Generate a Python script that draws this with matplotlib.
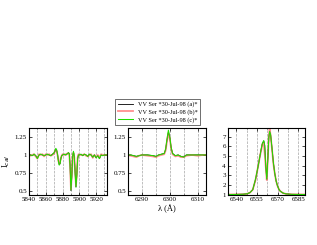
import matplotlib
matplotlib.use("Agg")
import matplotlib.pyplot as plt
from matplotlib.ticker import FuncFormatter, MultipleLocator

plt.rcParams['font.family'] = ['Liberation Serif', 'DejaVu Serif']
plt.rcParams['font.size'] = 5

labels = ["VV Ser *30-Jul-98 (a)*", "VV Ser *30-Jul-98 (b)*", "VV Ser *30-Jul-98 (c)*"]

# Panel 1: Na D region
wl1 = [5840, 5842, 5844, 5846, 5848, 5850, 5852, 5854, 5856, 5858,
       5860, 5862, 5864, 5866, 5868, 5870, 5871, 5872, 5873, 5874,
       5875, 5876, 5877, 5878, 5879, 5880, 5882, 5884, 5886, 5887,
       5888, 5889, 5890, 5891, 5892, 5893, 5894, 5895, 5896, 5897,
       5898, 5899, 5900, 5902, 5904, 5906, 5908, 5910, 5912, 5914,
       5916, 5918, 5920, 5922, 5924, 5926, 5928, 5930, 5932, 5934]
a1 = [1.00, 1.00, 0.99, 1.01, 0.99, 0.96, 1.00, 1.01, 1.00, 0.99,
      1.00, 1.01, 1.00, 0.99, 1.01, 1.03, 1.05, 1.08, 1.06, 1.01,
      0.93, 0.87, 0.88, 0.95, 0.99, 1.00, 1.01, 1.00, 1.02, 1.03,
      1.02, 0.86, 0.51, 0.70, 0.97, 1.04, 0.98, 0.76, 0.56, 0.72,
      0.95, 1.00, 1.00, 1.01, 0.99, 1.01, 1.00, 0.98, 1.01, 1.00,
      0.97, 1.00, 0.96, 0.99, 0.95, 1.00, 0.99, 1.00, 1.00, 1.00]
b1 = [1.01, 0.99, 1.00, 1.01, 0.98, 0.95, 1.01, 1.00, 1.01, 0.98,
      1.01, 1.00, 1.01, 0.99, 1.00, 1.02, 1.06, 1.07, 1.05, 1.00,
      0.92, 0.88, 0.90, 0.96, 0.99, 1.01, 1.00, 1.01, 1.02, 1.02,
      1.01, 0.84, 0.53, 0.72, 0.98, 1.03, 0.97, 0.77, 0.58, 0.73,
      0.96, 1.01, 1.00, 1.00, 1.00, 1.01, 0.99, 0.98, 1.00, 1.01,
      0.96, 1.00, 0.97, 1.00, 0.96, 1.01, 1.00, 1.00, 1.00, 1.00]
c1 = [1.00, 1.00, 0.99, 1.01, 0.99, 0.95, 1.00, 1.01, 1.00, 0.99,
      1.00, 1.01, 1.00, 0.99, 1.01, 1.03, 1.06, 1.09, 1.07, 1.01,
      0.92, 0.86, 0.88, 0.95, 0.99, 1.00, 1.01, 1.00, 1.02, 1.03,
      1.02, 0.85, 0.52, 0.70, 0.98, 1.05, 0.98, 0.75, 0.56, 0.72,
      0.95, 1.00, 1.00, 1.01, 0.99, 1.01, 1.00, 0.98, 1.01, 1.00,
      0.97, 1.00, 0.96, 0.99, 0.95, 1.00, 0.99, 1.00, 1.00, 1.00]

# Panel 2: [O I] 6300
wl2 = [6284, 6286, 6287, 6288, 6289, 6290, 6292, 6294, 6295, 6296,
       6297, 6298, 6298.5, 6299, 6299.5, 6300, 6300.5, 6301, 6302, 6303,
       6304, 6305, 6306, 6308, 6310, 6312, 6314]
a2 = [1.00, 1.00, 0.99, 0.98, 0.99, 1.00, 1.00, 0.99, 0.98, 1.00,
      1.01, 1.02, 1.07, 1.20, 1.31, 1.24, 1.10, 1.02, 0.99, 1.00,
      0.98, 0.98, 1.00, 1.00, 1.00, 1.00, 1.00]
b2 = [1.00, 0.99, 0.98, 0.97, 0.99, 1.00, 0.99, 0.98, 0.97, 0.99,
      1.00, 1.01, 1.06, 1.19, 1.30, 1.23, 1.08, 1.01, 0.98, 0.99,
      0.97, 0.97, 0.99, 1.00, 0.99, 1.00, 1.00]
c2 = [1.00, 1.00, 0.99, 0.98, 0.99, 1.00, 1.00, 0.99, 0.98, 1.00,
      1.01, 1.02, 1.08, 1.22, 1.34, 1.25, 1.10, 1.02, 0.99, 1.00,
      0.98, 0.97, 1.00, 1.00, 1.00, 1.00, 1.00]

# Panel 3: H-alpha
wl3 = [6534, 6540, 6545, 6548, 6550, 6552, 6554, 6556, 6557, 6558,
       6559, 6560, 6560.7, 6561.5, 6562.2, 6563, 6563.7, 6564.3, 6565, 6566,
       6567, 6568, 6569, 6570, 6571, 6572, 6574, 6576, 6580, 6585, 6590]
a3 = [1.00, 1.01, 1.03, 1.08, 1.20, 1.50, 2.50, 4.00, 4.80, 5.60,
      6.30, 6.55, 6.10, 3.90, 2.60, 4.80, 6.90, 7.50, 7.20, 5.80,
      4.30, 3.20, 2.40, 1.90, 1.55, 1.35, 1.15, 1.07, 1.02, 1.01, 1.00]
b3 = [1.00, 1.01, 1.03, 1.08, 1.20, 1.50, 2.50, 4.00, 4.80, 5.50,
      6.20, 6.40, 5.20, 3.80, 2.50, 4.90, 7.10, 7.80, 7.10, 5.70,
      4.20, 3.20, 2.40, 1.90, 1.55, 1.35, 1.15, 1.07, 1.02, 1.01, 1.00]
c3 = [1.00, 1.01, 1.03, 1.08, 1.20, 1.50, 2.60, 4.00, 4.80, 5.60,
      6.30, 6.60, 6.10, 3.80, 2.60, 4.80, 7.00, 7.55, 7.20, 5.80,
      4.30, 3.20, 2.40, 1.90, 1.55, 1.35, 1.15, 1.07, 1.02, 1.01, 1.00]

colors = ["black", "#ff6060", "#22dd00"]
widths = [0.6, 1.3, 0.75]
alphas = [1.0, 0.7, 1.0]

W, H = 317, 245
fig = plt.figure(figsize=(W / 100, H / 100), dpi=100)

def ax_at(l, t, r, b):
    return fig.add_axes([l / W, 1 - b / H, (r - l) / W, (b - t) / H])

ax1 = ax_at(29, 128, 107, 195)
ax2 = ax_at(128, 128, 206, 195)
ax3 = ax_at(228, 128, 305, 195)

panels = [
    (ax1, wl1, [a1, b1, c1], (5840, 5933), (0.45, 1.37), 20, 10, [0.5, 0.75, 1, 1.25]),
    (ax2, wl2, [a2, b2, c2], (6285, 6313), (0.45, 1.37), 10, 5, [0.5, 0.75, 1, 1.25]),
    (ax3, wl3, [a3, b3, c3], (6534, 6590), (0.95, 7.9), 15, 7.5, [1, 2, 3, 4, 5, 6, 7]),
]

fmt = FuncFormatter(lambda v, p: "%g" % v)
lines = []
for ax, wl, series, xl, yl, maj, mnr, yt in panels:
    for s, col, lw, al in zip(series, colors, widths, alphas):
        ln, = ax.plot(wl, s, color=col, lw=lw, alpha=al)
        if ax is ax1:
            lines.append(ln)
    ax.set_xlim(*xl)
    ax.set_ylim(*yl)
    ax.xaxis.set_major_locator(MultipleLocator(maj))
    ax.xaxis.set_minor_locator(MultipleLocator(mnr))
    ax.set_yticks(yt)
    ax.yaxis.set_major_formatter(fmt)
    ax.xaxis.set_major_formatter(fmt)
    ax.grid(True, which='both', axis='x', color='gray', ls='--', lw=0.5, alpha=0.7)
    ax.tick_params(which='both', direction='in', top=True, right=True,
                   labelsize=5, length=2, width=0.5, pad=1.5)
    ax.tick_params(which='minor', length=1)
    for sp in ax.spines.values():
        sp.set_linewidth(0.8)

ax1.set_ylabel("I$_{cal}$", fontsize=6, labelpad=2)
ax2.set_xlabel("λ (Å)", fontsize=6, labelpad=2)

leg = fig.legend(lines, labels, loc='upper left',
                 bbox_to_anchor=(115 / W, 1 - 99 / H),
                 fontsize=4.5, frameon=True, fancybox=False,
                 edgecolor='black', borderpad=0.4, handlelength=2.5,
                 labelspacing=0.3, handletextpad=0.8, borderaxespad=0)
leg.get_frame().set_linewidth(0.5)

fig.savefig("out.png", dpi=100)
